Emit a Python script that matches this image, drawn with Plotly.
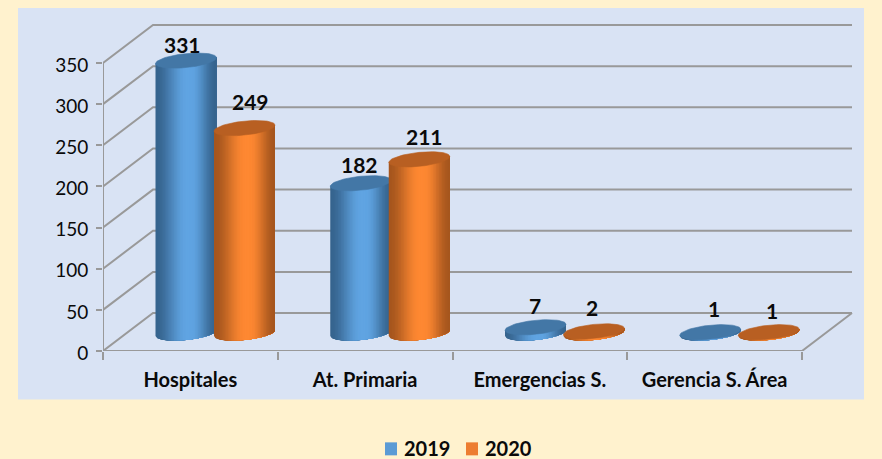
import numpy as np
import plotly.graph_objects as go

# ---- data ----
categories = ["Hospitales", "At. Primaria", "Emergencias S.", "Gerencia S. Área"]
series_names = ["2019", "2020"]
values_2019 = [331, 182, 7, 1]
values_2020 = [249, 211, 2, 1]
y_ticks = [0, 50, 100, 150, 200, 250, 300, 350]

# ---- geometry (pixels of the picture) ----
W, H = 882, 459
PX_X0, PX_X4 = 103.0, 802.0      # x axis from category edge 0 to 4
PX_Y0, PX_Y350 = 351.5, 63.0     # y axis value 0 and 350
PLOT_R, PLOT_T = 862.0, 18.0
XU = (PX_X4 - PX_X0) / 4
YU = (PX_Y0 - PX_Y350) / 350
DEPTH_X = 50 / XU
DEPTH_Y = 38 / YU
BASE_Y = 18.0 / YU               # floor height of the cylinders' axis
CENTER = {0: (186 - PX_X0) / XU, 1: (244.5 - PX_X0) / XU}
RX, RY, TILT = 30.5, 7.0, 3.0    # ellipse, pixels

BLUE = {"edge": (54, 100, 142), "light": (96, 164, 226), "cap": "#4377A6", "solid": "#5B9BD5"}
ORANGE = {"edge": (166, 86, 30), "light": (254, 136, 50), "cap": "#B85F22", "solid": "#ED7D31"}
GRID = "#999999"
TEXT = "#0A0A0A"
FONT = "Lato"

fig = go.Figure()


def line(xs, ys, width=2, color=GRID):
    fig.add_trace(go.Scatter(x=xs, y=ys, mode="lines", line=dict(color=color, width=width),
                             hoverinfo="skip", showlegend=False, cliponaxis=False))


# back wall, left wall, floor
for v in y_ticks:
    line([0, DEPTH_X, 4 + DEPTH_X], [v, v + DEPTH_Y, v + DEPTH_Y])
line([0, 0], [0, 350])
line([0, 4, 4 + DEPTH_X], [0, 0, DEPTH_Y])


def shade(u, pal):
    # u in [-1, 1] across the cylinder: dark edges, a light band right of centre
    d = abs(u - 0.1) / (1.1 if u < 0.1 else 0.9)
    s = np.clip((1 - d) / 0.92, 0, 1)
    t = s * s * (3 - 2 * s)
    return "rgb(%d,%d,%d)" % tuple(int(a + (b - a) * t) for a, b in zip(pal["edge"], pal["light"]))


def cylinder(cat, ser, value, pal):
    cx = cat + CENTER[ser]
    y_bot = BASE_Y
    y_top = BASE_Y + value
    n = 40
    us = np.linspace(-1, 1, n + 1)
    # painted left to right, each strip reaching the right edge, so that no seams show
    for i in range(n):
        uu = np.linspace(us[i], 1, 2 * (n - i) + 1)
        low = y_bot + (-RY * np.sqrt(np.clip(1 - uu**2, 0, 1)) + TILT * uu) / YU
        high = y_top + (TILT * uu[::-1]) / YU
        xs = cx + np.concatenate([uu, uu[::-1]]) * RX / XU
        ys = np.concatenate([low, high])
        fig.add_trace(go.Scatter(x=xs, y=ys, mode="lines", fill="toself",
                                 fillcolor=shade((us[i] + us[i + 1]) / 2, pal),
                                 line=dict(width=0), hoverinfo="skip", showlegend=False))
    t = np.linspace(0, 2 * np.pi, 73)
    fig.add_trace(go.Scatter(
        x=cx + RX * np.cos(t) / XU,
        y=y_top + (RY * np.sin(t) + TILT * np.cos(t)) / YU,
        mode="lines", fill="toself", fillcolor=pal["cap"],
        line=dict(color=pal["cap"], width=0.6), hoverinfo="skip", showlegend=False))


for c in range(len(categories)):
    cylinder(c, 0, values_2019[c], BLUE)
    cylinder(c, 1, values_2020[c], ORANGE)

# value labels, with the small nudges the original has (pixels)
nudge_2019 = [(-4, 16), (-1.5, 19), (-1, 22), (4, 24)]
nudge_2020 = [(5.5, 27), (5.5, 23), (-2, 24), (3.5, 22)]
for ser, vals, nudges in ((0, values_2019, nudge_2019), (1, values_2020, nudge_2020)):
    for c, (v, (nx, ny)) in enumerate(zip(vals, nudges)):
        fig.add_annotation(x=c + CENTER[ser], y=BASE_Y + v, text=str(v), showarrow=False,
                           xshift=nx, yshift=ny, font=dict(family=FONT, size=21, color=TEXT, weight="bold"))

l, r, t, b = PX_X0, W - PLOT_R, PLOT_T, H - PX_Y0
pw, ph = PLOT_R - PX_X0, PX_Y0 - PLOT_T


def paper_x(px):
    return (px - l) / pw


def paper_y(py):
    return (PX_Y0 - py) / ph


fig.add_shape(type="rect", layer="below", xref="paper", yref="paper",
              x0=paper_x(18), x1=paper_x(864), y0=paper_y(400), y1=paper_y(8),
              fillcolor="#D9E3F4", line_width=0)

# legend keys and names
for name, pal, px in zip(series_names, (BLUE, ORANGE), (385, 466)):
    fig.add_shape(type="rect", xref="paper", yref="paper", x0=paper_x(px), x1=paper_x(px + 12),
                  y0=paper_y(456), y1=paper_y(443), fillcolor=pal["solid"], line_width=0)
    fig.add_annotation(xref="paper", yref="paper", x=paper_x(px + 16.5), y=paper_y(449), text=name,
                       showarrow=False, xanchor="left", yanchor="middle", height=18,
                       font=dict(family=FONT, size=20, color=TEXT, weight="bold"))

fig.update_layout(
    width=W, height=H, margin=dict(l=l, r=r, t=t, b=b, pad=0),
    paper_bgcolor="#FFF2CE", plot_bgcolor="rgba(0,0,0,0)", showlegend=False,
    xaxis=dict(range=[0, (PLOT_R - PX_X0) / XU], showgrid=False, zeroline=False, showline=False,
               tickmode="array", tickvals=[i + 0.5 for i in range(len(categories))],
               ticktext=categories, ticks="", ticklabelstandoff=15,
               tickfont=dict(family=FONT, size=20, color=TEXT, weight="bold"),
               minor=dict(tickmode="array", tickvals=list(range(5)), ticks="outside",
                          ticklen=8, tickwidth=1.5, tickcolor=GRID)),
    yaxis=dict(range=[0, (PX_Y0 - PLOT_T) / YU], showgrid=False, zeroline=False, showline=False,
               tickmode="array", tickvals=y_ticks, ticks="outside", ticklen=6, tickwidth=1.5,
               tickcolor=GRID, ticklabelstandoff=4, ticklabelshift=2,
               tickfont=dict(family=FONT, size=19, color=TEXT)),
)
fig.write_html("out.html", config={"displayModeBar": False},
               post_script="document.body.style.margin='0';document.documentElement.style.overflow='hidden';")
